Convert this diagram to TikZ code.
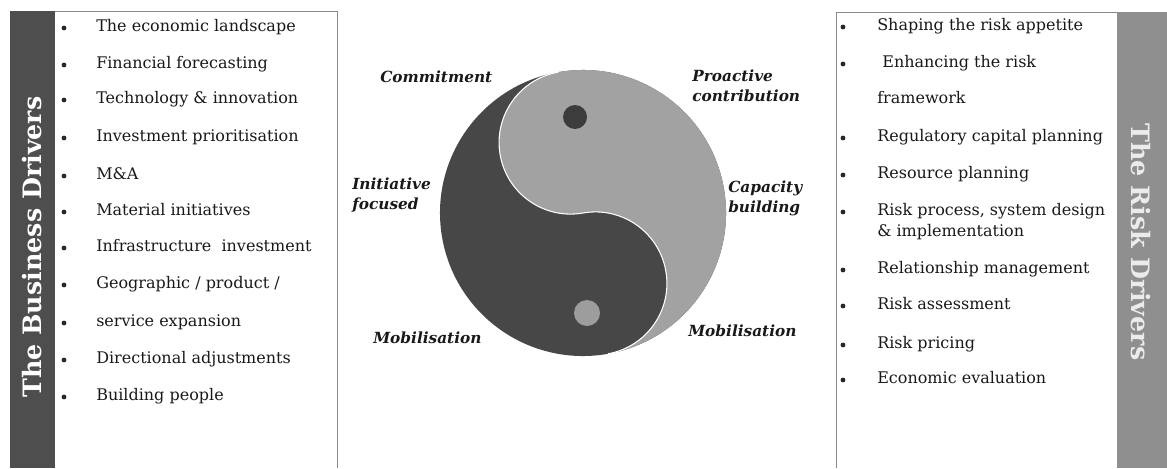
\documentclass[tikz,border=0pt]{standalone}
\usepackage{fontspec}
\setmainfont{DejaVu Serif}
\definecolor{darkbar}{HTML}{4E4E4E}
\definecolor{lightbar}{HTML}{8F8F8F}
\definecolor{yinc}{HTML}{474747}
\definecolor{yangc}{HTML}{A2A2A2}
\definecolor{boxline}{HTML}{8A8A8A}
\begin{document}
\begin{tikzpicture}[x=0.75pt,y=-0.75pt,
  item/.style={anchor=mid west, inner sep=0pt, font=\fontsize{12}{14}\selectfont, text=black!90},
  bul/.style={circle, fill=black!85, inner sep=0pt, minimum size=3.6pt},
  lbl/.style={anchor=west, inner sep=0pt, align=left, font=\fontsize{11.5}{15}\selectfont\bfseries\itshape, text=black!90},
  title/.style={inner sep=0pt, font=\fontsize{19}{22}\selectfont\bfseries},
  listbox/.style={draw=boxline, line width=0.6pt, fill=white}]
\useasboundingbox (0,0) rectangle (1167,468);
% left bar and box
\fill[darkbar] (10,11) rectangle (55,468);
\draw[listbox] (55,11) -- (337,11) -- (337,468);
\node[title, text=white, rotate=90] (bt) at (32,247) {The Business Drivers};
% right box and bar
\draw[listbox] (836,468) -- (836,12) -- (1117,12);
\fill[lightbar] (1117,12) rectangle (1167,468);
\node[title, text=white!92!black, rotate=-90] (rt) at (1141,242) {The Risk Drivers};
% left list
\foreach \y/\t [count=\i] in {28/{The economic landscape}, 65/{Financial forecasting}, 100/{Technology \& innovation}, 138/{Investment prioritisation}, 176/{M\&A}, 212/{Material initiatives}, 248/{Infrastructure\ \ investment}, 285/{Geographic / product /}, 323/{service expansion}, 360/{Directional adjustments}, 397/{Building people}}{
  \node[bul] (lb\i) at (64,\y) {};
  \node[item] (li\i) at (96,\y) {\t};
}
% right list
\foreach \y/\t [count=\i] in {27/{Shaping the risk appetite}, 64/{\ Enhancing the risk}, 138/{Regulatory capital planning}, 175/{Resource planning}, 212/{Risk process, system design}, 270/{Relationship management}, 306/{Risk assessment}, 345/{Risk pricing}, 380/{Economic evaluation}}{
  \node[bul] (rb\i) at (843,\y) {};
  \node[item] (ri\i) at (877,\y) {\t};
}
\node[item] (rf) at (877,100) {framework};
\node[item] (rimp) at (877,233) {\& implementation};
% yin yang
\begin{scope}[shift={(583,213)}]
\begin{scope}[x=0.75pt,y=0.75pt,rotate=10]
  \fill[yinc] (0,0) circle[radius=143];
  \fill[yangc] (0,143) arc[start angle=90,end angle=-90,radius=143]
     arc[start angle=-90,end angle=90,radius=71.5]
     arc[start angle=-90,end angle=-270,radius=71.5] -- cycle;
  \draw[white, line width=0.8pt] (0,-143) arc[start angle=-90,end angle=90,radius=71.5]
     arc[start angle=-90,end angle=-270,radius=71.5];
\end{scope}
\end{scope}
\fill[yinc!85!black] (575,117) circle[radius=12];
\fill[yangc!105] (587,313) circle[radius=13];
% labels
\node[lbl] (l1) at (380,77) {Commitment};
\node[lbl] (l2) at (692,86) {Proactive\\contribution};
\node[lbl] (l3) at (352,195) {Initiative\\focused};
\node[lbl] (l4) at (728,198) {Capacity\\building};
\node[lbl] (l5) at (373,338) {Mobilisation};
\node[lbl] (l6) at (688,331) {Mobilisation};
\end{tikzpicture}
\end{document}
